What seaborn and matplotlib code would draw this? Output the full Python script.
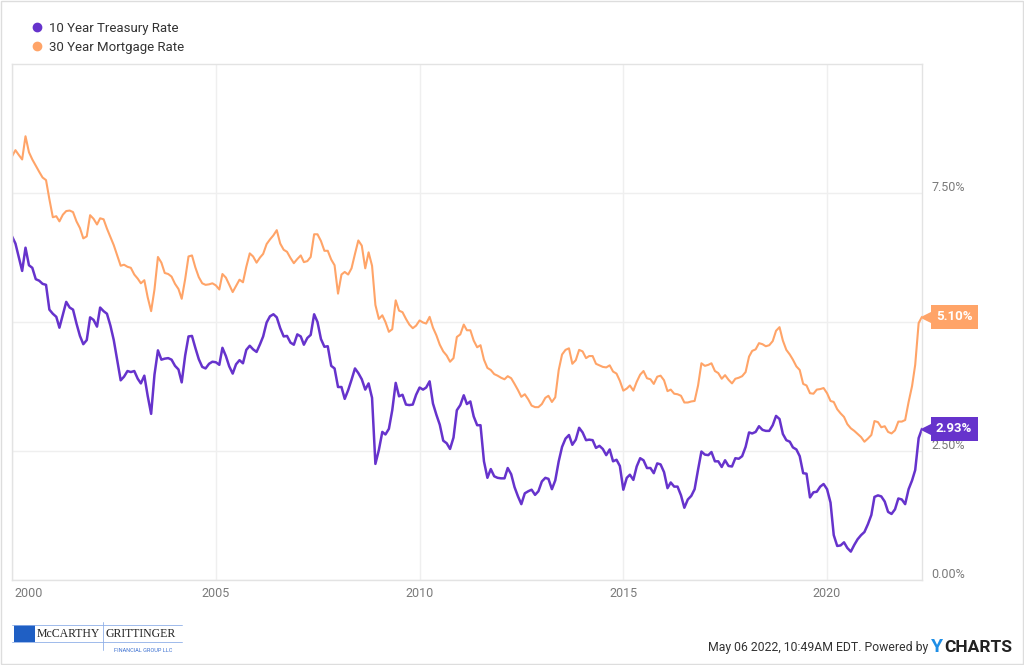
import matplotlib
matplotlib.use('Agg')
from matplotlib import pyplot as plt
from matplotlib.lines import Line2D
from matplotlib.patches import Rectangle
import matplotlib.dates as mdates
import matplotlib.ticker as mticker
import matplotlib.transforms as mtransforms
import pandas as pd
import seaborn as sns

# monthly values, Jan 2000 - May 2022
treasury_10y = [
    6.66, 6.52, 6.26, 5.99, 6.44, 6.10, 6.05, 5.83, 5.80, 5.74, 5.72, 5.24,
    5.16, 5.10, 4.89, 5.14, 5.39, 5.28, 5.24, 4.97, 4.73, 4.57, 4.65, 5.09,
    5.04, 4.91, 5.28, 5.21, 5.16, 4.93, 4.65, 4.26, 3.87, 3.94, 4.05, 4.03,
    4.05, 3.90, 3.81, 3.96, 3.57, 3.22, 3.98, 4.45, 4.27, 4.29, 4.30, 4.27,
    4.15, 4.08, 3.83, 4.35, 4.72, 4.73, 4.50, 4.28, 4.13, 4.10, 4.19, 4.23,
    4.22, 4.17, 4.50, 4.34, 4.14, 4.00, 4.18, 4.26, 4.20, 4.46, 4.54, 4.47,
    4.42, 4.57, 4.72, 4.99, 5.11, 5.15, 5.09, 4.88, 4.72, 4.73, 4.60, 4.56,
    4.76, 4.72, 4.56, 4.69, 4.75, 5.15, 5.00, 4.67, 4.52, 4.53, 4.15, 4.10,
    3.74, 3.74, 3.51, 3.68, 3.88, 4.10, 4.01, 3.89, 3.69, 3.81, 3.53, 2.25,
    2.52, 2.87, 2.82, 2.93, 3.29, 3.82, 3.56, 3.59, 3.40, 3.39, 3.40, 3.59,
    3.73, 3.69, 3.73, 3.85, 3.42, 3.20, 3.01, 2.70, 2.65, 2.54, 2.76, 3.29,
    3.39, 3.58, 3.41, 3.46, 3.17, 3.00, 3.00, 2.30, 1.98, 2.15, 2.01, 1.98,
    1.97, 1.97, 2.17, 2.05, 1.80, 1.62, 1.47, 1.68, 1.72, 1.75, 1.65, 1.72,
    1.91, 1.98, 1.96, 1.76, 1.93, 2.30, 2.58, 2.74, 2.81, 2.62, 2.72, 2.95,
    2.86, 2.71, 2.72, 2.71, 2.56, 2.60, 2.54, 2.42, 2.53, 2.30, 2.33, 2.21,
    1.75, 1.98, 2.04, 1.94, 2.20, 2.36, 2.32, 2.17, 2.17, 2.07, 2.26, 2.24,
    2.09, 1.78, 1.89, 1.81, 1.81, 1.64, 1.40, 1.56, 1.63, 1.76, 2.14, 2.49,
    2.43, 2.42, 2.48, 2.30, 2.30, 2.19, 2.32, 2.21, 2.20, 2.36, 2.35, 2.40,
    2.58, 2.86, 2.84, 2.87, 2.98, 2.91, 2.89, 2.89, 3.00, 3.18, 3.12, 2.83,
    2.71, 2.68, 2.57, 2.53, 2.40, 2.07, 2.06, 1.60, 1.70, 1.71, 1.81, 1.86,
    1.76, 1.50, 0.87, 0.66, 0.67, 0.73, 0.62, 0.55, 0.68, 0.79, 0.87, 0.93,
    1.08, 1.26, 1.61, 1.64, 1.62, 1.52, 1.32, 1.28, 1.37, 1.58, 1.56, 1.47,
    1.76, 1.93, 2.13, 2.75, 2.93,
]

mortgage_30y = [
    8.21, 8.33, 8.24, 8.15, 8.60, 8.29, 8.15, 8.03, 7.91, 7.80, 7.75, 7.38,
    7.03, 7.05, 6.95, 7.08, 7.15, 7.16, 7.13, 6.95, 6.82, 6.62, 6.66, 7.07,
    7.00, 6.89, 7.01, 6.99, 6.81, 6.65, 6.49, 6.29, 6.09, 6.11, 6.07, 6.05,
    5.92, 5.84, 5.75, 5.81, 5.48, 5.21, 5.63, 6.26, 6.15, 5.95, 5.93, 5.88,
    5.74, 5.64, 5.45, 5.83, 6.27, 6.29, 6.06, 5.87, 5.75, 5.72, 5.73, 5.75,
    5.71, 5.63, 5.93, 5.86, 5.72, 5.58, 5.70, 5.82, 5.77, 6.07, 6.33, 6.27,
    6.15, 6.25, 6.32, 6.51, 6.60, 6.68, 6.78, 6.52, 6.40, 6.36, 6.24, 6.14,
    6.22, 6.29, 6.16, 6.18, 6.26, 6.70, 6.70, 6.57, 6.38, 6.38, 6.21, 6.10,
    5.55, 5.92, 5.97, 5.92, 6.04, 6.32, 6.58, 6.48, 6.04, 6.35, 6.09, 5.33,
    5.06, 5.13, 5.00, 4.81, 4.86, 5.42, 5.22, 5.19, 5.06, 4.95, 4.88, 4.93,
    5.03, 4.99, 4.97, 5.10, 4.89, 4.74, 4.56, 4.43, 4.35, 4.23, 4.30, 4.71,
    4.76, 4.95, 4.84, 4.84, 4.64, 4.51, 4.55, 4.27, 4.11, 4.07, 3.99, 3.96,
    3.92, 3.89, 3.95, 3.91, 3.80, 3.68, 3.55, 3.60, 3.50, 3.38, 3.35, 3.35,
    3.41, 3.53, 3.57, 3.45, 3.54, 4.07, 4.37, 4.46, 4.49, 4.19, 4.26, 4.46,
    4.43, 4.30, 4.34, 4.34, 4.19, 4.16, 4.13, 4.12, 4.16, 4.04, 4.00, 3.86,
    3.67, 3.71, 3.77, 3.67, 3.84, 3.98, 4.05, 3.91, 3.89, 3.80, 3.94, 3.96,
    3.87, 3.66, 3.69, 3.61, 3.60, 3.57, 3.44, 3.44, 3.46, 3.47, 3.77, 4.20,
    4.15, 4.17, 4.20, 4.05, 4.01, 3.90, 3.97, 3.88, 3.81, 3.90, 3.92, 3.95,
    4.03, 4.33, 4.44, 4.47, 4.59, 4.57, 4.53, 4.55, 4.63, 4.83, 4.90, 4.64,
    4.46, 4.37, 4.27, 4.14, 4.07, 3.80, 3.77, 3.62, 3.61, 3.69, 3.70, 3.72,
    3.62, 3.47, 3.45, 3.31, 3.23, 3.16, 3.02, 2.94, 2.89, 2.83, 2.77, 2.68,
    2.74, 2.81, 3.08, 3.06, 2.96, 2.98, 2.87, 2.84, 2.90, 3.07, 3.07, 3.10,
    3.45, 3.76, 4.17, 4.98, 5.10,
]

dates = pd.date_range('2000-01-01', periods=len(treasury_10y), freq='MS')

series_names = ['10 Year Treasury Rate', '30 Year Mortgage Rate']
series_colors = ['#6633cc', '#ffa468']
y_ticks = [0, 2.5, 5.0, 7.5]
year_ticks = [2000, 2005, 2010, 2015, 2020]

df = pd.DataFrame({
    'date': list(dates) * 2,
    'rate': treasury_10y + mortgage_30y,
    'series': [series_names[0]] * len(dates) + [series_names[1]] * len(dates),
})

sns.set_theme(style='white')
plt.rcParams['font.family'] = ['Roboto', 'DejaVu Sans']

fig = plt.figure(figsize=(10.24, 6.65), dpi=100)
ax = fig.add_axes([12 / 1024, 1 - 580 / 665, 910 / 1024, 516 / 665])

# orange first so the purple line sits on top
sns.lineplot(data=df[df['series'] == series_names[1]], x='date', y='rate',
             color=series_colors[1], linewidth=1.5, ax=ax, legend=False)
sns.lineplot(data=df[df['series'] == series_names[0]], x='date', y='rate',
             color=series_colors[0], linewidth=1.8, ax=ax, legend=False)

ax.set_xlim(dates[0], dates[-1])
ax.set_ylim(0, 10)
ax.set_xlabel('')
ax.set_ylabel('')

ax.xaxis.set_major_locator(mticker.FixedLocator([mdates.date2num(pd.Timestamp(f'{y}-01-01')) for y in year_ticks]))
ax.xaxis.set_major_formatter(mdates.DateFormatter('%Y'))
ax.yaxis.tick_right()
ax.set_yticks(y_ticks)
# the 5.00% label is hidden behind the mortgage badge in the original
ax.yaxis.set_major_formatter(mticker.FuncFormatter(lambda v, p: '' if v == 5.0 else f'{v:.2f}%'))
ax.tick_params(axis='both', length=0, labelsize=9, labelcolor='#7a7a7a')
ax.tick_params(axis='x', pad=5)
ax.tick_params(axis='y', pad=7)

# y labels sit a little above their gridline
shift = mtransforms.ScaledTranslation(0, 5 / 72, fig.dpi_scale_trans)
for lbl in ax.get_yticklabels():
    lbl.set_transform(lbl.get_transform() + shift)
xlabels = ax.get_xticklabels()
xlabels[0].set_horizontalalignment('left')
xlabels[0].set_transform(xlabels[0].get_transform() + mtransforms.ScaledTranslation(2 / 72, 0, fig.dpi_scale_trans))

ax.grid(True, color='#efefef', linewidth=1)
for side in ['left', 'right', 'top', 'bottom']:
    ax.spines[side].set_color('#e3e3e3')
    ax.spines[side].set_linewidth(1)

# end-value badges
for values, color in [(mortgage_30y, series_colors[1]), (treasury_10y, series_colors[0])]:
    last = values[-1]
    tri = mtransforms.offset_copy(ax.transData, fig=fig, x=6, y=0, units='dots')
    ax.plot([dates[-1]], [last], marker='<', markersize=10, color=color,
            transform=tri, clip_on=False, zorder=5)
    ax.annotate(f'{last:.2f}%', xy=(dates[-1], last), xytext=(10, 0), textcoords='offset points',
                ha='left', va='center', color='white', fontsize=9.5, fontweight='bold',
                bbox=dict(boxstyle='square,pad=0.4', fc=color, ec='none'),
                annotation_clip=False, zorder=6)

# legend
handles = [Line2D([], [], marker='o', linestyle='', markersize=6, color=c) for c in series_colors]
fig.legend(handles, series_names, loc='upper left', bbox_to_anchor=(0.017, 0.985), frameon=False,
           fontsize=9.5, handletextpad=0.3, labelspacing=0.45, handlelength=1.2, labelcolor='#333333')

# footer
renderer = fig.canvas.get_renderer()
charts_txt = fig.text(1012 / 1024, 1 - 647 / 665, 'CHARTS', ha='right', va='center',
                      fontsize=12.5, fontweight='bold', color='#222222')
bb = charts_txt.get_window_extent(renderer)
y_txt = fig.text((bb.x0 - 1) / 1024, 1 - 647 / 665, 'Y', ha='right', va='center',
                 fontsize=14, fontweight='bold', color='#1e8ee6')
bb_y = y_txt.get_window_extent(renderer)
fig.text((bb_y.x0 - 3) / 1024, 1 - 648 / 665, 'May 06 2022, 10:49AM EDT. Powered by',
         ha='right', va='center', fontsize=8.8, color='#333333')

# company logo
fig.patches.append(Rectangle((14 / 1024, 1 - 642 / 665), 21 / 1024, 17 / 665,
                             transform=fig.transFigure, facecolor='#1f5fc4', edgecolor='none'))
fig.text(37 / 1024, 1 - 634 / 665, 'McCARTHY', ha='left', va='center', fontsize=8.5,
         family='Liberation Serif', color='#222222')
fig.text(106 / 1024, 1 - 634 / 665, 'GRITTINGER', ha='left', va='center', fontsize=8.5,
         family='Liberation Serif', color='#222222')
fig.add_artist(Line2D([103 / 1024, 103 / 1024], [1 - 650 / 665, 1 - 622 / 665], color='#8fb0e8', linewidth=0.6))
fig.add_artist(Line2D([12 / 1024, 182 / 1024], [1 - 625 / 665, 1 - 625 / 665], color='#8fb0e8', linewidth=0.6))
fig.add_artist(Line2D([12 / 1024, 182 / 1024], [1 - 642 / 665, 1 - 642 / 665], color='#8fb0e8', linewidth=0.6))
fig.text(143 / 1024, 1 - 651 / 665, 'FINANCIAL GROUP LLC', ha='center', va='center', fontsize=4,
         color='#3a6fd0')

# outer border
fig.patches.append(Rectangle((0.0005, 0.0008), 0.999, 0.9984, transform=fig.transFigure,
                             facecolor='none', edgecolor='#dddddd', linewidth=1))

fig.savefig('out.png', dpi=100)
